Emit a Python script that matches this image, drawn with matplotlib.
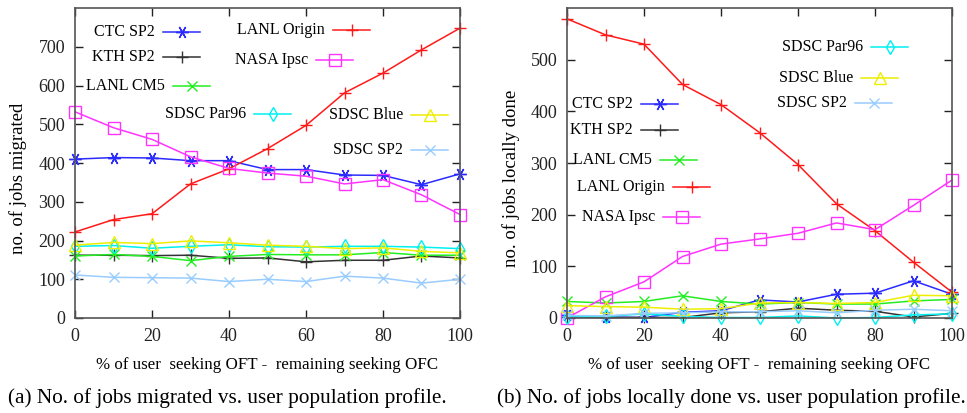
import numpy as np
import matplotlib
matplotlib.use("Agg")
import matplotlib.pyplot as plt
from matplotlib.lines import Line2D

plt.rcParams["font.family"] = ["Liberation Serif", "DejaVu Serif"]

pct = [0, 10, 20, 30, 40, 50, 60, 70, 80, 90, 100]

# jobs migrated
mig_ctc = [410, 414, 413, 406, 406, 383, 383, 369, 368, 344, 372]
mig_kth = [162, 162, 161, 162, 154, 155, 145, 149, 149, 160, 155]
mig_cm5 = [160, 164, 159, 148, 159, 164, 163, 163, 169, 162, 162]
mig_origin = [222, 254, 269, 346, 385, 437, 497, 581, 632, 692, 748]
mig_nasa = [532, 491, 461, 416, 386, 374, 366, 346, 357, 318, 267]
mig_par96 = [185, 187, 180, 185, 189, 184, 183, 185, 185, 183, 179]
mig_blue = [188, 195, 192, 199, 194, 188, 185, 179, 181, 172, 168]
mig_sp2 = [111, 105, 104, 103, 94, 100, 94, 108, 103, 90, 100]

# jobs locally done
loc_ctc = [5, 2, 1, 11, 14, 35, 31, 46, 48, 72, 46]
loc_kth = [2, 1, 1, 1, 10, 12, 19, 15, 13, 2, 9]
loc_cm5 = [32, 29, 32, 43, 32, 27, 30, 27, 27, 33, 36]
loc_origin = [579, 548, 530, 452, 413, 359, 297, 221, 169, 108, 50]
loc_nasa = [0, 41, 70, 119, 143, 153, 164, 184, 171, 218, 267]
loc_par96 = [2, 3, 8, 3, 1, 1, 4, 0, 1, 6, 8]
loc_blue = [24, 22, 21, 17, 18, 29, 30, 28, 30, 44, 43]
loc_sp2 = [5, 4, 9, 10, 12, 12, 14, 10, 15, 17, 14]

names = ["CTC SP2", "KTH SP2", "LANL CM5", "LANL Origin", "NASA Ipsc",
         "SDSC Par96", "SDSC Blue", "SDSC SP2"]

styles = {
    "CTC SP2": dict(color="#2b2bff", marker=(6, 2, 90), ms=9, mfc="none"),
    "KTH SP2": dict(color="#333333", marker="+", ms=9),
    "LANL CM5": dict(color="#22ee22", marker="x", ms=7.5),
    "LANL Origin": dict(color="#ff1a1a", marker="+", ms=9),
    "NASA Ipsc": dict(color="#ff33ff", marker="s", ms=8, mfc="none"),
    "SDSC Par96": dict(color="#00f0f0", marker="d", ms=7.5, mfc="none"),
    "SDSC Blue": dict(color="#eeee00", marker="^", ms=8, mfc="none"),
    "SDSC SP2": dict(color="#99ccff", marker="x", ms=7.5),
}

W, H = 967, 413
fig = plt.figure(figsize=(W / 100, H / 100), dpi=100)


def px_axes(x0, y0, x1, y1):
    return fig.add_axes([x0 / W, 1 - y1 / H, (x1 - x0) / W, (y1 - y0) / H])


def key(label, xr, y):
    # gnuplot-style key: label right-aligned, then a sample line with a marker
    st = styles[label]
    fig.text(xr / W, 1 - y / H, label, ha="right", va="center", fontsize=11.5)
    x0, x1 = xr + 8, xr + 45
    fig.add_artist(Line2D([x0 / W, x1 / W], [1 - y / H] * 2, color=st["color"],
                          lw=1.1, transform=fig.transFigure))
    fig.add_artist(Line2D([(x0 + x1) / 2 / W], [1 - y / H], color=st["color"],
                          marker=st["marker"], ms=st["ms"], mfc=st.get("mfc", st["color"]),
                          mew=1.0, lw=0, transform=fig.transFigure))


def panel(ax, series, ymax, yticks, ylabel, label_x):
    for label, vals in zip(names, series):
        st = styles[label]
        ax.plot(pct, vals, color=st["color"], marker=st["marker"], ms=st["ms"],
                mfc=st.get("mfc", st["color"]), mew=1.0, lw=1.1, clip_on=False)
    ax.set_xlim(0, 100)
    ax.set_ylim(0, ymax)
    ax.set_xticks(range(0, 101, 20))
    ax.set_yticks(yticks)
    ax.tick_params(direction="in", length=6, width=1, top=True, right=True,
                   labelsize=13, pad=7, colors="#222222")
    for sp in ax.spines.values():
        sp.set_color("#555555")
        sp.set_linewidth(1.2)
    ax.set_xlabel("% of user  seeking OFT -  remaining seeking OFC", fontsize=12.2)
    ax.xaxis.set_label_coords(0.5, -0.125)
    ax.set_ylabel(ylabel, fontsize=13.5)
    ax.yaxis.set_label_coords(label_x, 0.45)


ax1 = px_axes(75, 8, 460, 318)
panel(ax1, [mig_ctc, mig_kth, mig_cm5, mig_origin, mig_nasa, mig_par96, mig_blue, mig_sp2],
      800, range(0, 701, 100), "no. of jobs migrated", -0.125)

ax2 = px_axes(567, 8, 952, 318)
panel(ax2, [loc_ctc, loc_kth, loc_cm5, loc_origin, loc_nasa, loc_par96, loc_blue, loc_sp2],
      600, range(0, 501, 100), "no. of jobs locally done", -0.122)

# keys, left panel
key("CTC SP2", 155, 32)
key("KTH SP2", 155, 57)
key("LANL CM5", 165, 86)
key("SDSC Par96", 246, 114)
key("LANL Origin", 325, 30)
key("NASA Ipsc", 308, 60)
key("SDSC Blue", 403, 115)
key("SDSC SP2", 403, 150)

# keys, right panel
key("SDSC Par96", 863, 47)
key("SDSC Blue", 853, 78)
key("SDSC SP2", 847, 103)
key("CTC SP2", 633, 104)
key("KTH SP2", 633, 130)
key("LANL CM5", 652, 160)
key("LANL Origin", 665, 187)
key("NASA Ipsc", 655, 217)

fig.text(8 / W, 1 - 398 / H, "(a) No. of jobs migrated vs. user population profile.",
         ha="left", va="center", fontsize=15.3)
fig.text(497 / W, 1 - 398 / H, "(b) No. of jobs locally done vs. user population profile.",
         ha="left", va="center", fontsize=15.3)

fig.savefig("out.png", dpi=100)
